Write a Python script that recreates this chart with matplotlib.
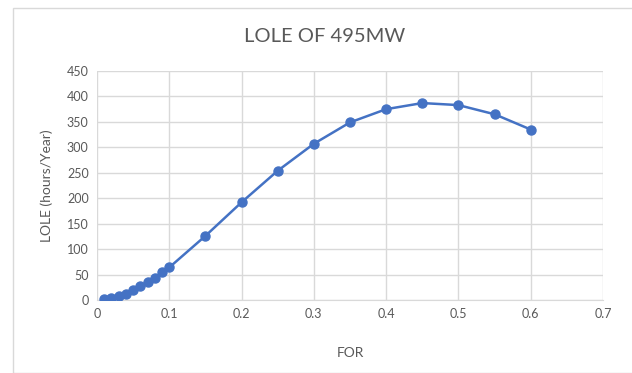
import matplotlib.pyplot as plt
from matplotlib.patches import Rectangle

plt.rcParams['font.family'] = ['Lato', 'DejaVu Sans']

# Data
FOR = [0.01, 0.02, 0.03, 0.04, 0.05, 0.06, 0.07, 0.08, 0.09, 0.1,
       0.15, 0.2, 0.25, 0.3, 0.35, 0.4, 0.45, 0.5, 0.55, 0.6]
LOLE = [1, 4, 7, 12, 19, 27, 36, 44, 55, 64,
        126, 192, 254, 307, 349, 375, 387, 383, 365, 335]

x_ticks = [0, 0.1, 0.2, 0.3, 0.4, 0.5, 0.6, 0.7]
y_ticks = [0, 50, 100, 150, 200, 250, 300, 350, 400, 450]

BLUE = '#4472C4'
GRID = '#d9d9d9'
TEXT = '#595959'

fig = plt.figure(figsize=(6.32, 3.73), dpi=100)
fig.patches.append(Rectangle((13 / 632, 0), 1, 1 - 8 / 373, transform=fig.transFigure,
                             fill=False, edgecolor=GRID, linewidth=1))

ax = fig.add_axes([97 / 632, 1 - 300 / 373, (603 - 97) / 632, (300 - 71) / 373])
ax.plot(FOR, LOLE, color=BLUE, linewidth=1.8, marker='o', markersize=6.5, zorder=3)

ax.set_xlim(0, 0.7)
ax.set_ylim(0, 450)
ax.set_xticks(x_ticks)
ax.set_xticklabels([f'{t:g}' for t in x_ticks])
ax.set_yticks(y_ticks)
ax.grid(True, color=GRID, linewidth=1)
ax.set_axisbelow(True)
for side in ['top', 'right', 'left']:
    ax.spines[side].set_visible(False)
ax.spines['bottom'].set_color(GRID)
ax.tick_params(length=0, labelsize=9, colors=TEXT, pad=6)

ax.set_xlabel('FOR', fontsize=10, color=TEXT, labelpad=19)
ax.set_ylabel('LOLE (hours/Year)', fontsize=10, color=TEXT, labelpad=10)
fig.text(325 / 632, 1 - 36 / 373, 'LOLE OF 495MW', fontsize=14.5, color=TEXT,
         ha='center', va='center')

fig.savefig('out.png', dpi=100)
